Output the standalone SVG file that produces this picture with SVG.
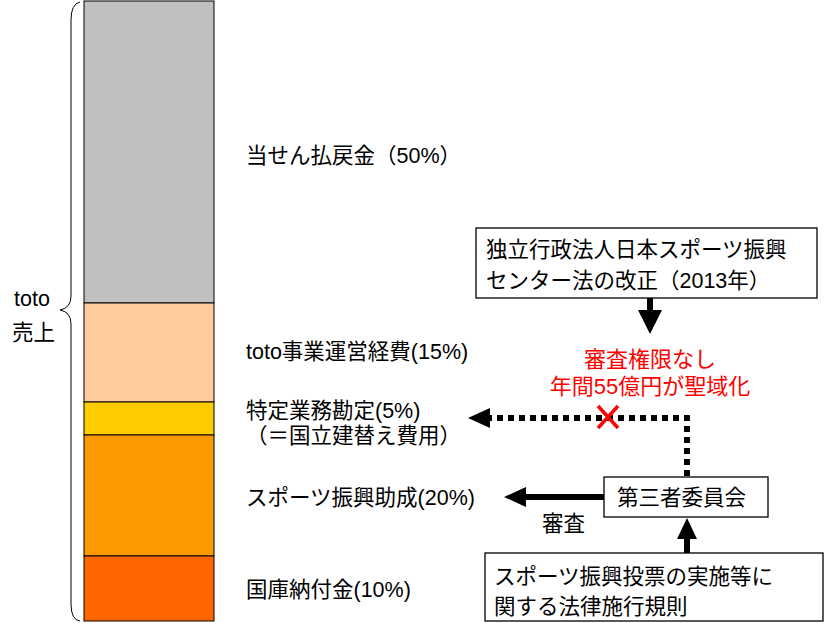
<svg xmlns="http://www.w3.org/2000/svg" width="825" height="623" viewBox="0 0 825 623">
<style>
text{font-family:"Liberation Sans","Noto Sans CJK JP",sans-serif;font-size:21.5px;fill:#000}
.r{fill:#ff0000;text-anchor:middle;font-size:22px}
.seg{stroke:#000;stroke-width:1}
.box{fill:#fff;stroke:#000;stroke-width:1.3}
</style>
<defs>
<marker id="ah" markerWidth="4" markerHeight="4" refX="2" refY="2" orient="auto" markerUnits="strokeWidth"><path d="M0,0L4,2L0,4Z" fill="#000"/></marker>
</defs>
<g id="bar">
<rect class="seg" x="84" y="1" width="130" height="302" fill="#c0c0c0"/>
<rect class="seg" x="84" y="303" width="130" height="99" fill="#fecc9c"/>
<rect class="seg" x="84" y="402" width="130" height="33" fill="#ffcc00"/>
<rect class="seg" x="84" y="435" width="130" height="121" fill="#fb9900"/>
<rect class="seg" x="84" y="556" width="130" height="65" fill="#ff6600"/>
</g>
<g id="brace">
<path d="M80,2 Q71,4 71,20 L71,296 Q71,308 60,310 Q71,312 71,324 L71,604 Q71,620 80,621" fill="none" stroke="#000" stroke-width="1"/>
<text x="14" y="306">toto</text>
<text x="12" y="340">売上</text>
</g>
<g id="labels">
<text x="246" y="163">当せん払戻金（50%）</text>
<text x="246" y="359">toto事業運営経費(15%)</text>
<text x="246" y="418">特定業務勘定(5%)</text>
<text x="246" y="443">（＝国立建替え費用）</text>
<text x="246" y="505">スポーツ振興助成(20%)</text>
<text x="246" y="597">国庫納付金(10%)</text>
</g>
<g id="law2013">
<rect class="box" x="476" y="228" width="341" height="70"/>
<text x="486" y="257">独立行政法人日本スポーツ振興</text>
<text x="486" y="288">センター法の改正（2013年）</text>
</g>
<g id="note">
<text class="r" x="650" y="367">審査権限なし</text>
<text class="r" x="650" y="394">年間55億円が聖域化</text>
</g>
<g id="committee">
<rect class="box" x="604" y="477" width="164" height="40"/>
<text x="617" y="505">第三者委員会</text>
</g>
<g id="rules">
<rect class="box" x="485" y="553" width="338" height="68"/>
<text x="494" y="584">スポーツ振興投票の実施等に</text>
<text x="494" y="614">関する法律施行規則</text>
</g>
<g id="connectors">
<line x1="650" y1="298" x2="650" y2="322" stroke="#000" stroke-width="6" marker-end="url(#ah)"/>
<polyline points="687,476 687,418 490,418" fill="none" stroke="#000" stroke-width="6" stroke-dasharray="6,5"/>
<path d="M468,418L490,408L490,428Z" fill="#000"/>
<path d="M598,406L618,428M618,406L598,428" stroke="#ff0000" stroke-width="3.5"/>
<line x1="604" y1="497" x2="525" y2="497" stroke="#000" stroke-width="6"/>
<path d="M504,497L526,487L526,507Z" fill="#000"/>
<text x="542" y="531">審査</text>
<line x1="687" y1="553" x2="687" y2="538" stroke="#000" stroke-width="6"/>
<path d="M687,518L677,539L697,539Z" fill="#000"/>
</g>
</svg>
